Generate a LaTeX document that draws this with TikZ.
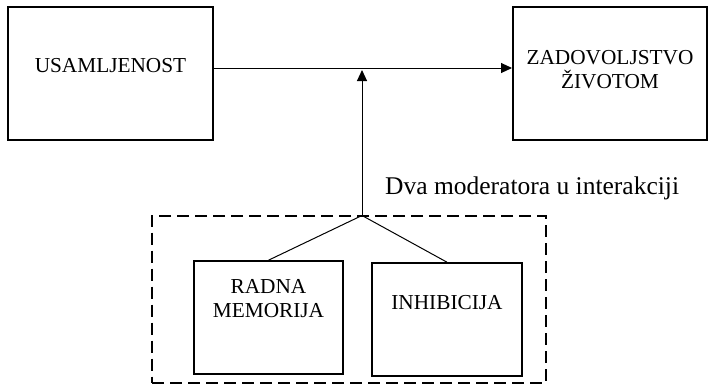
\documentclass[tikz,border=0pt]{standalone}
\usepackage{fontspec}
\setmainfont{Liberation Serif}
\usetikzlibrary{arrows.meta}
\begin{document}
\begin{tikzpicture}[x=1pt,y=-1pt,
  bigbox/.style={draw,line width=2pt,inner sep=0pt},
  smallbox/.style={draw,line width=1.6pt,inner sep=0pt},
  boxtext/.style={font=\fontsize{21.3}{24}\selectfont,align=center,inner sep=0pt},
  conn/.style={line width=1pt},
  arr/.style={conn,-{Triangle[length=11pt,width=10pt]}}]
\useasboundingbox (0,0) rectangle (708,386);
\node[bigbox,minimum width=205pt,minimum height=133pt] (usa) at (110.5,73.5) {};
\node[boxtext] (usat) at (110.5,66) {USAMLJENOST};
\node[bigbox,minimum width=194pt,minimum height=133pt] (zad) at (610,73.5) {};
\node[boxtext] (zadt) at (610,70) {ZADOVOLJSTVO\\ŽIVOTOM};
\node[draw,dashed,line width=2pt,dash pattern=on 12pt off 6pt,minimum width=394pt,minimum height=167pt,inner sep=0pt] (mod) at (349,299) {};
\node[smallbox,minimum width=149pt,minimum height=113pt] (rad) at (268.5,317.5) {};
\node[boxtext] (radt) at (268.5,299) {RADNA\\MEMORIJA};
\node[smallbox,minimum width=150pt,minimum height=113pt] (inh) at (447,319.5) {};
\node[boxtext] (inht) at (447,303) {INHIBICIJA};
\node[font=\fontsize{25.5}{28}\selectfont,anchor=west,inner sep=0pt] (lab) at (385,188) {Dva moderatora u interakciji};
\coordinate (top) at (362,215.5);
\coordinate (mid) at (362,68);
\draw[arr] (usa.east |- mid) -- (zad.west |- mid);
\draw[arr] (top) -- (362,70);
\draw[conn] (top) -- (rad.north);
\draw[conn] (top) -- (inh.north);
\end{tikzpicture}
\end{document}
